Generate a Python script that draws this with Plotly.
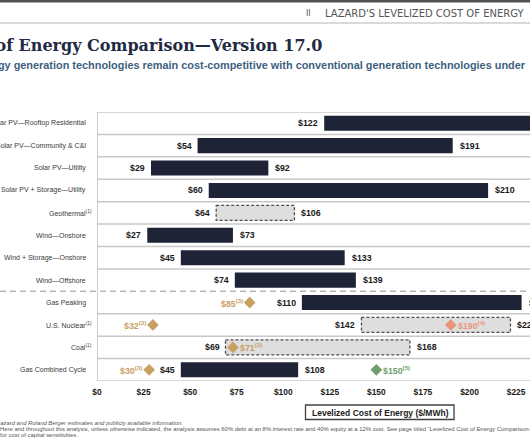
import plotly.graph_objects as go

# ---------------- data ----------------
categories = [
    "Solar PV—Rooftop Residential",
    "Solar PV—Community & C&I",
    "Solar PV—Utility",
    "Solar PV + Storage—Utility",
    "Geothermal<sup>(1)</sup>",
    "Wind—Onshore",
    "Wind + Storage—Onshore",
    "Wind—Offshore",
    "Gas Peaking",
    "U.S. Nuclear<sup>(1)</sup>",
    "Coal<sup>(1)</sup>",
    "Gas Combined Cycle",
]
low = [122, 54, 29, 60, 64, 27, 45, 74, 110, 142, 69, 45]
high = [284, 191, 92, 210, 106, 73, 133, 139, 228, 222, 168, 108]
dashed = [False, False, False, False, True, False, False, False, False, True, True, False]

marker_rows = [8, 9, 10, 11, 9, 11]
marker_values = [82, 30, 73, 28, 190, 150]
marker_labels = ["$85<sup>(3)</sup>", "$32<sup>(3)</sup>", "$71<sup>(3)</sup>",
                 "$30<sup>(3)</sup>", "$190<sup>(4)</sup>", "$150<sup>(5)</sup>"]
marker_colors = ["#c9a063", "#c9a063", "#c9a063", "#c9a063", "#e8957c", "#6f9f6a"]
marker_side = ["left", "left", "right", "left", "right", "right"]

tick_values = [0, 25, 50, 75, 100, 125, 150, 175, 200, 225]
tick_labels = ["$0", "$25", "$50", "$75", "$100", "$125", "$150", "$175", "$200", "$225"]

# ---------------- layout helpers ----------------
W, H = 530, 442
PL, PR, PT, PB = 97, 530, 112, 381
X_MAX = 232.5

def px(x):
    return (x - PL) / (PR - PL)

def py(y):
    return (PB - y) / (PB - PT)

SANS = "Liberation Sans, Arial, sans-serif"
NAVY = "#1f2336"
rows = list(range(len(categories)))
BW = 0.67

fig = go.Figure()

solid_idx = [i for i in rows if not dashed[i]]
fig.add_trace(go.Bar(
    y=solid_idx,
    x=[high[i] - low[i] for i in solid_idx],
    base=[low[i] for i in solid_idx],
    orientation="h", width=BW,
    marker=dict(color=NAVY, line=dict(width=0)),
    hoverinfo="skip", showlegend=False,
))

for i in rows:
    if dashed[i]:
        fig.add_trace(go.Scatter(
            x=[low[i], high[i], high[i], low[i], low[i]],
            y=[i - BW / 2, i - BW / 2, i + BW / 2, i + BW / 2, i - BW / 2],
            mode="lines", fill="toself", fillcolor="#dedede",
            line=dict(color="#4d4d4d", width=1.3, dash="3px,2px"),
            hoverinfo="skip", showlegend=False,
        ))

fig.add_trace(go.Scatter(
    x=marker_values, y=marker_rows, mode="markers",
    marker=dict(symbol="diamond", size=9, color=marker_colors, line=dict(width=0)),
    hoverinfo="skip", showlegend=False,
))

ann = []
shapes = []

for k in range(len(categories) + 1):
    yv = k - 0.5
    if k == 8:
        shapes.append(dict(type="line", xref="paper", yref="y", x0=px(0), x1=1, y0=yv, y1=yv,
                           line=dict(color="#b5b5b5", width=1.5, dash="6px,4px"), layer="below"))
    else:
        shapes.append(dict(type="line", xref="paper", yref="y", x0=0, x1=1, y0=yv, y1=yv,
                           line=dict(color="#c8c8c8", width=1.5), layer="below"))
shapes.append(dict(type="line", xref="x", yref="y", x0=0, x1=0, y0=-0.5, y1=11.5,
                   line=dict(color="#bdbdbd", width=1.5), layer="below"))

for i, c in enumerate(categories):
    ann.append(dict(x=0, y=i, xref="paper", yref="y", text=c, showarrow=False,
                    xanchor="right", yanchor="middle",
                    xshift=-3 if "<sup>" in c else -9,
                    font=dict(family=SANS, size=7.0, color="#3a3a3a")))

for i in rows:
    ann.append(dict(x=low[i], y=i, xref="x", yref="y", text=f"${low[i]}", showarrow=False,
                    xanchor="right", yanchor="middle", xshift=-4,
                    font=dict(family=SANS, size=8.8, color="#1a1a1a", weight="bold")))
    ann.append(dict(x=high[i], y=i, xref="x", yref="y", text=f"${high[i]}", showarrow=False,
                    xanchor="left", yanchor="middle", xshift=5,
                    font=dict(family=SANS, size=8.8, color="#1a1a1a", weight="bold")))

for v, r, t, c, s in zip(marker_values, marker_rows, marker_labels, marker_colors, marker_side):
    ann.append(dict(x=v, y=r, xref="x", yref="y", text=t, showarrow=False,
                    xanchor="right" if s == "left" else "left", yanchor="middle",
                    xshift=-5 if s == "left" else 5,
                    font=dict(family=SANS, size=8.8, color=c, weight="bold")))

shapes.append(dict(type="rect", xref="paper", yref="paper", x0=px(0) - 0.5, x1=1.1,
                   y0=py(0), y1=py(2.5), fillcolor="#505050", line=dict(width=0)))
shapes.append(dict(type="line", xref="paper", yref="paper", x0=px(0) - 0.5, x1=1.1,
                   y0=py(23), y1=py(23), line=dict(color="#dadada", width=2)))
ann.append(dict(x=px(308), y=py(13.5), xref="paper", yref="paper", text="II", showarrow=False,
                xanchor="center", yanchor="middle",
                font=dict(family="DejaVu Sans", size=8, color="#555555")))
ann.append(dict(x=px(526), y=py(13.5), xref="paper", yref="paper",
                text="LAZARD'S LEVELIZED COST OF ENERGY", showarrow=False,
                xanchor="right", yanchor="middle",
                font=dict(family="DejaVu Sans", size=10, color="#555555")))

ann.append(dict(x=px(324), y=py(45), xref="paper", yref="paper",
                text="Levelized Cost of Energy Comparison—Version 17.0", showarrow=False,
                xanchor="right", yanchor="middle",
                font=dict(family="DejaVu Serif", size=16, color="#1f2a44", weight="bold")))
ann.append(dict(x=px(528), y=py(65.5), xref="paper", yref="paper",
                text="Renewable energy generation technologies remain cost-competitive with conventional generation technologies under",
                showarrow=False, xanchor="right", yanchor="middle",
                font=dict(family=SANS, size=10.9, color="#3f5f80", weight="bold")))

shapes.append(dict(type="rect", xref="paper", yref="paper", x0=px(305.5), x1=px(454),
                   y0=py(419.5), y1=py(405), line=dict(color="#404040", width=1.3),
                   fillcolor="white"))
ann.append(dict(x=px(380), y=py(412.5), xref="paper", yref="paper",
                text="Levelized Cost of Energy ($/MWh)", showarrow=False,
                xanchor="center", yanchor="middle",
                font=dict(family=SANS, size=8.5, color="#1a1a1a", weight="bold")))

FN = dict(family=SANS, size=5.9, color="#555555")
ann.append(dict(x=px(185), y=py(423.3), xref="paper", yref="paper",
                text="Source: Lazard and Roland Berger estimates and publicly available information.",
                showarrow=False, xanchor="right", yanchor="middle",
                font=dict(FN, style="italic")))
ann.append(dict(x=px(-2), y=py(429), xref="paper", yref="paper",
                text="Here and throughout this analysis, unless otherwise indicated, the analysis assumes 60% debt at an 8% interest rate and 40% equity at a 12% cost. See page titled “Levelized Cost of Energy Comparison—Sensitivity to Cost of Capital”",
                showarrow=False, xanchor="left", yanchor="middle", font=FN))
ann.append(dict(x=px(-2.5), y=py(434.7), xref="paper", yref="paper",
                text="for cost of capital sensitivities.",
                showarrow=False, xanchor="left", yanchor="middle", font=FN))

fig.update_layout(
    width=W, height=H,
    margin=dict(l=PL, r=W - PR, t=PT, b=H - PB, pad=0),
    paper_bgcolor="white", plot_bgcolor="white",
    template="none",
    showlegend=False,
    barmode="overlay",
    xaxis=dict(range=[0, X_MAX], tickvals=tick_values, ticktext=tick_labels,
               showgrid=False, zeroline=False, showline=False, ticks="",
               ticklabelstandoff=5, automargin=False,
               tickfont=dict(family=SANS, size=8.4, color="#1a1a1a", weight="bold")),
    yaxis=dict(range=[11.5, -0.5], showticklabels=False, showgrid=False, zeroline=False,
               showline=False, ticks="", automargin=False),
    annotations=ann, shapes=shapes,
)

fig.write_html("out.html", config={"displayModeBar": False},
               post_script="document.body.style.margin='0';document.body.style.overflow='hidden';")
